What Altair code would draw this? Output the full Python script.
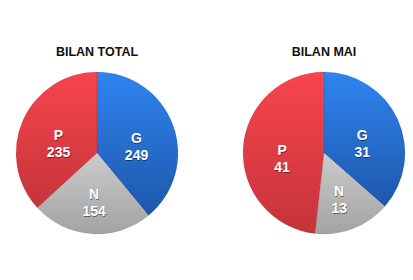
import altair as alt
import pandas as pd

cats = ["G", "N", "P"]
order = [1, 2, 3]
total_vals = [249, 154, 235]
mai_vals = [31, 13, 41]
titles = ["BILAN TOTAL", "BILAN MAI"]

grad_colors = {
    "G": ("#2f84f0", "#1d57aa"),
    "N": ("#cbcbcb", "#a3a3a3"),
    "P": ("#f8444d", "#c4343a"),
}

FONT = "Liberation Sans"


def gradient(c1, c2):
    return alt.Gradient(
        gradient="linear",
        x1=0, y1=0, x2=0, y2=1,
        stops=[alt.GradientStop(color=c1, offset=0), alt.GradientStop(color=c2, offset=1)],
    )


def panel(values, title):
    df = pd.DataFrame({
        "cat": cats,
        "order": order,
        "value": values,
        "label": [f"{c}\n{v}" for c, v in zip(cats, values)],
    })
    base = (
        alt.Chart(df)
        .transform_window(cum="sum(value)", sort=[alt.SortField("order")])
        .transform_joinaggregate(total="sum(value)")
        .transform_calculate(
            t0="(datum.cum - datum.value) / datum.total * 2 * PI",
            t1="datum.cum / datum.total * 2 * PI",
            tm="(datum.cum - datum.value / 2) / datum.total * 2 * PI",
        )
    )
    layers = []
    for c in cats:
        c1, c2 = grad_colors[c]
        layers.append(
            base.transform_filter(alt.datum.cat == c)
            .mark_arc(radius=81, fill=gradient(c1, c2), stroke="#000000",
                      strokeOpacity=0.12, strokeWidth=0.6)
            .encode(theta=alt.Theta("t0:Q", scale=None), theta2="t1:Q")
        )
    shadow = base.mark_text(
        radius=42, font=FONT, fontSize=14, fontWeight="bold", lineBreak="\n",
        lineHeight=17, color="#000000", opacity=0.45, dy=1, dx=0.5,
        align="center", baseline="middle",
    ).encode(theta=alt.Theta("tm:Q", scale=None), text="label:N")
    text = base.mark_text(
        radius=42, font=FONT, fontSize=14, fontWeight="bold", lineBreak="\n",
        lineHeight=17, color="#ffffff", align="center", baseline="middle",
    ).encode(theta=alt.Theta("tm:Q", scale=None), text="label:N")
    return alt.layer(*layers, shadow, text).properties(
        width=178,
        height=184,
        title=alt.TitleParams(
            title, font=FONT, fontSize=12.5, fontWeight="bold", color="#111111",
            anchor="middle", offset=3,
        ),
    )


chart = (
    alt.hconcat(panel(total_vals, titles[0]), panel(mai_vals, titles[1]), spacing=49)
    .properties(padding={"left": 8, "top": 45, "right": 0, "bottom": 36}, background="#ffffff")
    .configure_view(stroke=None)
)

chart.save("out.html", embed_options={"renderer": "svg", "actions": False})
